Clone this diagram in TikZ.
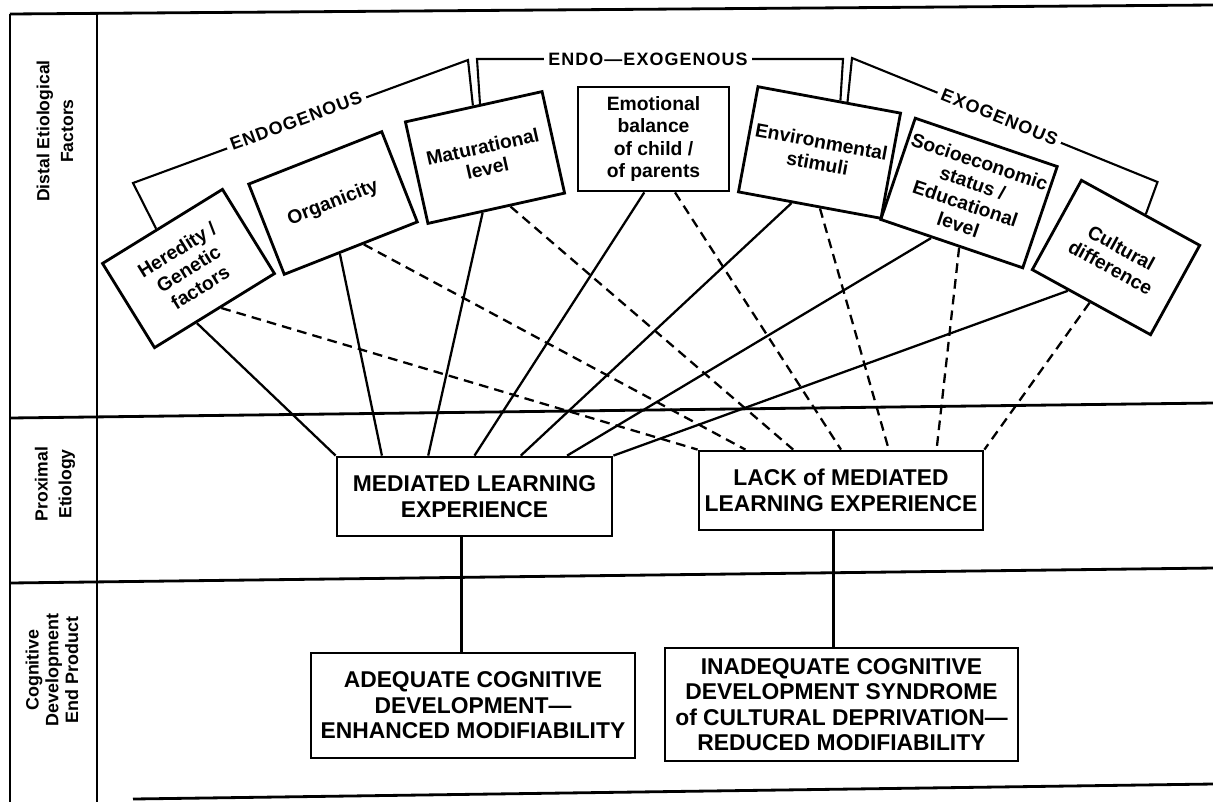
\documentclass[tikz,border=0pt]{standalone}
\usepackage{fontspec}
\setmainfont{Liberation Sans}
\newfontfamily\spfont{Liberation Sans}[LetterSpace=6]
\usetikzlibrary{calc}
\newcommand{\mainsz}{\bfseries\fontsize{13}{14.5}\selectfont}
\newcommand{\distsz}{\bfseries\fontsize{11}{12.6}\selectfont}
\newcommand{\brsz}{\spfont\bfseries\fontsize{10.2}{12}\selectfont}
\newcommand{\sidesz}{\bfseries\fontsize{10}{13.6}\selectfont}
\newcommand{\cogsz}{\bfseries\fontsize{10.2}{11.2}\selectfont}
\begin{document}
\begin{tikzpicture}[x=0.02cm,y=-0.02cm,
  frame/.style={line width=1.6pt},
  bigbox/.style={draw,line width=1.6pt,align=center,inner sep=1pt,font=\mainsz},
  dbox/.style={draw,line width=1.6pt,align=center,inner sep=1pt,font=\distsz},
  sline/.style={line width=1.3pt},
  dline/.style={line width=1.3pt,dash pattern=on 5.5pt off 3.5pt},
  brline/.style={line width=1.2pt},
  brlabel/.style={fill=white,inner sep=2.5pt,font=\brsz},
  side/.style={rotate=90,align=center,font=\sidesz}]

\path[use as bounding box] (0,0) rectangle (1213,802);

% ---- frame ----
\coordinate (ft1) at (10,14);  \coordinate (ft2) at (1213,5);
\coordinate (fa1) at (10,418); \coordinate (fa2) at (1213,403);
\coordinate (fb1) at (10,583); \coordinate (fb2) at (1213,568);
\coordinate (fc1) at (133,799); \coordinate (fc2) at (1213,784);
\coordinate (fl1) at (10,802); \coordinate (fm0) at (97,13); \coordinate (fm1) at (97,802);
\draw[frame] (ft1) -- (ft2);
\draw[frame] (fa1) -- (fa2);
\draw[frame] (fb1) -- (fb2);
\draw[frame] (fc1) -- (fc2);
\draw[frame] (ft1) -- (fl1);
\draw[frame] (fm0) -- (fm1);

% ---- side labels ----
\node[side] (l1) at (55,131) {Distal Etiological\\Factors};
\node[side] (l2) at (55,484) {Proximal\\Etiology};
\node[side,font=\cogsz] (l3) at (52,670) {Cognitive\\Development\\End Product};

% ---- distal boxes ----
\node[dbox,rotate=31.7,minimum width=2.82cm,minimum height=1.98cm] (her) at (188.5,268.5) {Heredity /\\Genetic\\factors};
\node[dbox,rotate=21.5,minimum width=2.86cm,minimum height=1.94cm] (org) at (333,203) {Organicity};
\node[dbox,rotate=12.5,minimum width=2.8cm,minimum height=2.08cm] (mat) at (485,157.5) {Maturational\\level};
\node[dbox,minimum width=3.02cm,minimum height=2.08cm] (emo) at (653.5,139) {Emotional\\balance\\of child /\\of parents};
\node[dbox,rotate=-10.5,minimum width=2.9cm,minimum height=2.14cm] (env) at (819.5,152.5) {Environmental\\stimuli};
\node[dbox,rotate=-18.8,minimum width=3.0cm,minimum height=2.14cm] (soc) at (969,193) {Socioeconomic\\status /\\Educational\\level};
\node[dbox,rotate=-28.8,minimum width=2.7cm,minimum height=2.04cm] (cul) at (1116,257.5) {Cultural\\difference};

% ---- proximal boxes ----
\node[bigbox,minimum width=5.5cm,minimum height=1.58cm] (mle) at (474.5,496.5) {MEDIATED LEARNING\\EXPERIENCE};
\node[bigbox,minimum width=5.68cm,minimum height=1.58cm] (lmle) at (841,490.5) {LACK of MEDIATED\\LEARNING EXPERIENCE};

% ---- end product boxes ----
\node[bigbox,minimum width=6.48cm,minimum height=2.1cm] (acd) at (473,705.5) {ADEQUATE COGNITIVE\\DEVELOPMENT---\\ENHANCED MODIFIABILITY};
\node[bigbox,minimum width=7.06cm,minimum height=2.26cm] (icd) at (841.5,704.5) {INADEQUATE COGNITIVE\\DEVELOPMENT SYNDROME\\of CULTURAL DEPRIVATION---\\REDUCED MODIFIABILITY};

% ---- connectors distal -> proximal ----
\foreach \n/\s/\d/\k in {her/0.35/0.55/0, org/0.416/0.593/1, mat/0.40/0.60/2, emo/0.44/0.64/3, env/0.376/0.572/4, soc/0.36/0.554/5, cul/0.31/0.49/6} {
  \draw[sline] ($(\n.south west)!\s!(\n.south east)$) -- ($(mle.north west)!\k/6!(mle.north east)$);
  \draw[dline] ($(\n.south west)!\d!(\n.south east)$) -- ($(lmle.north west)!\k/6!(lmle.north east)$);
}

% ---- connectors proximal -> end product ----
\coordinate (m1) at ($(mle.south west)!0.453!(mle.south east)$);
\coordinate (m2) at ($(lmle.south west)!0.474!(lmle.south east)$);
\draw[sline] (m1) -- (m1 |- acd.north);
\draw[sline] (m2) -- (m2 |- icd.north);

% ---- brackets ----
\coordinate (b1a) at (133,183); \coordinate (b1b) at (468,60);
\draw[brline] ($(her.north west)!0.454!(her.north east)$) -- (b1a) -- (b1b) -- ($(mat.north west)!0.496!(mat.north east)$);
\coordinate (b2a) at (477,59); \coordinate (b2b) at (843,59);
\draw[brline] ($(mat.north west)!0.547!(mat.north east)$) -- (b2a) -- (b2b) -- ($(env.north west)!0.575!(env.north east)$);
\coordinate (b3a) at (852,58); \coordinate (b3b) at (1157.5,182);
\draw[brline] ($(env.north west)!0.624!(env.north east)$) -- (b3a) -- (b3b) -- ($(cul.north west)!0.538!(cul.north east)$);

\node[brlabel,rotate=20.2] (t1) at (296,121) {ENDOGENOUS};
\node[brlabel] (t2) at (648,59) {ENDO—EXOGENOUS};
\node[brlabel,rotate=-22.1] (t3) at (999.5,117) {EXOGENOUS};
\end{tikzpicture}
\end{document}
